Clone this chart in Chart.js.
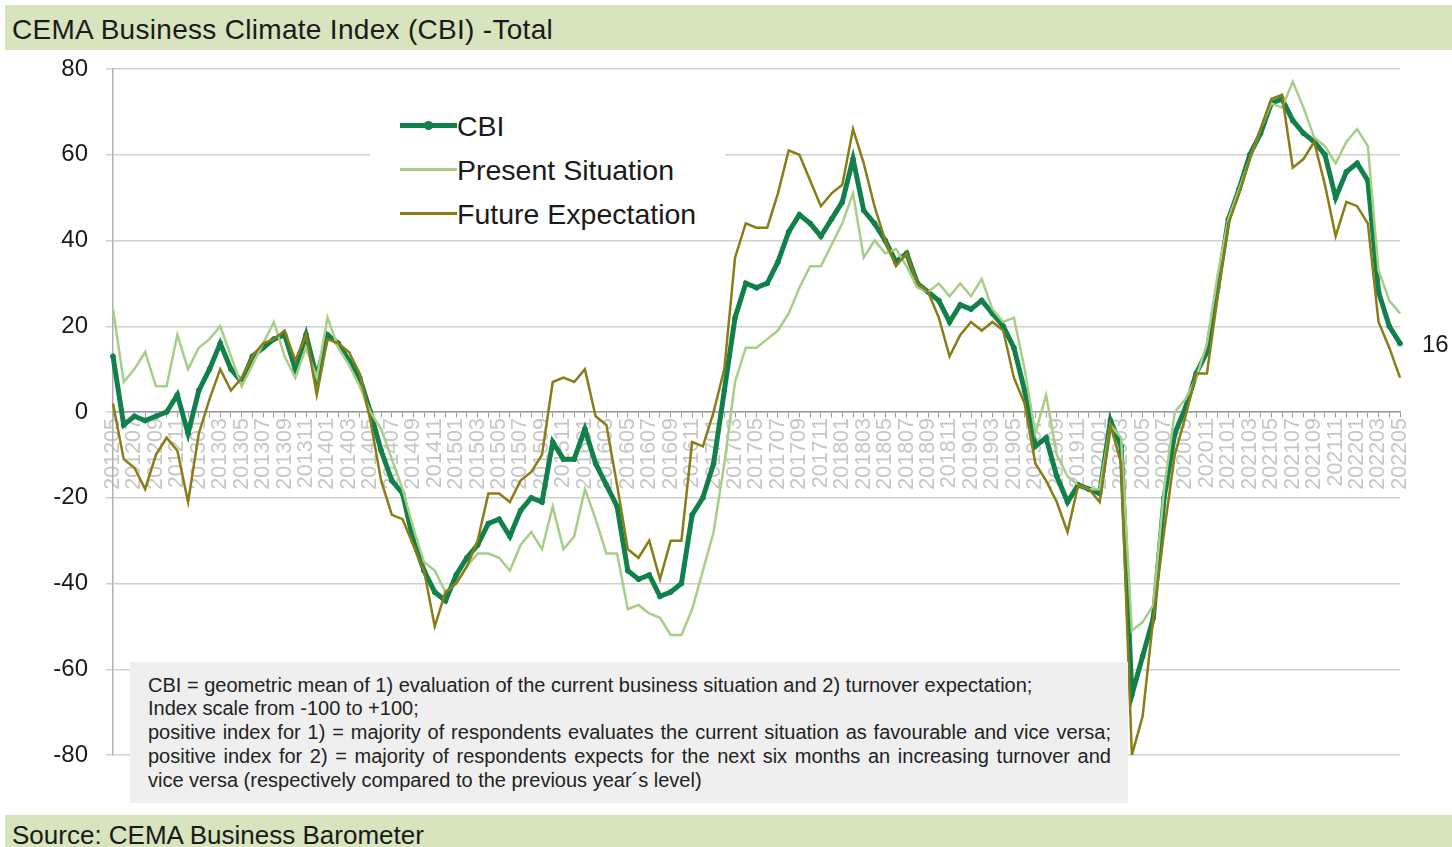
<!DOCTYPE html>
<html>
<head>
<meta charset="utf-8">
<script src="https://cdn.jsdelivr.net/npm/chart.js@4.4.1/dist/chart.umd.min.js"></script>
<style>
  body { margin: 0; background: #fff; font-family: 'Liberation Sans', Arial, sans-serif; }
  #wrap { position: relative; width: 1452px; height: 847px; overflow: hidden; }
  #cbiChart { position: absolute; left: 0; top: 0; }
  .bar { position: absolute; left: 5px; right: 0; background: #d7e4bd; color: #1a1a1a; }
  #title { top: 5px; height: 45px; font-size: 28px; letter-spacing: 0.3px; line-height: 50px; padding-left: 7px; }
  #source { top: 815px; height: 32px; font-size: 26px; line-height: 40px; padding-left: 7px; }
  #legend { position: absolute; left: 370px; top: 100px; width: 355px; height: 140px; background: #fff; }
  .item { position: absolute; left: 30px; height: 44px; font-size: 28.5px; color: #1a1a1a; line-height: 44px; }
  .item .swatch { position: absolute; left: 0; width: 57px; }
  .item span { position: absolute; left: 57px; white-space: nowrap; }
  #note { position: absolute; left: 130px; top: 662px; width: 998px; height: 141px; background: #efefef;
          font-size: 20px; color: #222; }
  #note div { position: absolute; left: 18px; width: 963px; white-space: nowrap; line-height: 22px; }
  #note div.j { white-space: normal; text-align: justify; text-align-last: justify; }
</style>
</head>
<body>
<div id="wrap">
  <canvas id="cbiChart" width="1452" height="847"></canvas>
  <div class="bar" id="title">CEMA Business Climate Index (CBI) -Total</div>
  <div id="legend">
    <div class="item" style="top:4px"><div class="swatch" style="top:19px;height:5px;background:#11804a"></div>
      <div style="position:absolute;left:24px;top:17px;width:9px;height:9px;border-radius:50%;background:#11804a"></div><span>CBI</span></div>
    <div class="item" style="top:48px"><div class="swatch" style="top:20px;height:3px;background:#a6cf86"></div><span>Present Situation</span></div>
    <div class="item" style="top:92px"><div class="swatch" style="top:20px;height:3px;background:#8a7c16"></div><span>Future Expectation</span></div>
  </div>
  <div id="note">
    <div style="top:12px">CBI = geometric mean of 1) evaluation of the current business situation and 2) turnover expectation;</div>
    <div style="top:35px">Index scale from -100 to +100;</div>
    <div class="j" style="top:59px">positive index for 1) = majority of respondents evaluates the current situation as favourable and vice versa;</div>
    <div class="j" style="top:83px">positive index for 2) = majority of respondents expects for the next six months an increasing turnover and</div>
    <div style="top:107px">vice versa (respectively compared to the previous year´s level)</div>
  </div>
  <div class="bar" id="source">Source: CEMA Business Barometer</div>
</div>
<script>
const months = [
  '201205', '201206', '201207', '201208', '201209', '201210', '201211', '201212',
  '201301', '201302', '201303', '201304', '201305', '201306', '201307', '201308', '201309', '201310', '201311', '201312',
  '201401', '201402', '201403', '201404', '201405', '201406', '201407', '201408', '201409', '201410', '201411', '201412',
  '201501', '201502', '201503', '201504', '201505', '201506', '201507', '201508', '201509', '201510', '201511', '201512',
  '201601', '201602', '201603', '201604', '201605', '201606', '201607', '201608', '201609', '201610', '201611', '201612',
  '201701', '201702', '201703', '201704', '201705', '201706', '201707', '201708', '201709', '201710', '201711', '201712',
  '201801', '201802', '201803', '201804', '201805', '201806', '201807', '201808', '201809', '201810', '201811', '201812',
  '201901', '201902', '201903', '201904', '201905', '201906', '201907', '201908', '201909', '201910', '201911', '201912',
  '202001', '202002', '202003', '202004', '202005', '202006', '202007', '202008', '202009', '202010', '202011', '202012',
  '202101', '202102', '202103', '202104', '202105', '202106', '202107', '202108', '202109', '202110', '202111', '202112',
  '202201', '202202', '202203', '202204', '202205'
];

const cbi = [
  13, -3, -1, -2, -1, 0, 4, -5,
  5, 10, 16, 10, 7, 13, 15, 17, 18, 10, 18, 8,
  18, 16, 12, 8, 0, -9, -16, -19, -30, -37, -42, -44,
  -38, -34, -31, -26, -25, -29, -23, -20, -21, -7, -11, -11,
  -4, -12, -17, -22, -37, -39, -38, -43, -42, -40, -24, -20,
  -12, 5, 22, 30, 29, 30, 35, 42, 46, 44, 41, 45,
  49, 59, 47, 44, 40, 35, 37, 30, 28, 26, 21, 25,
  24, 26, 23, 20, 15, 5, -8, -6, -15, -21, -17, -18,
  -19, -2, -8, -66, -57, -48, -20, -5, 1, 9, 14, 29,
  45, 52, 60, 65, 72, 73, 68, 65, 63, 60, 50, 56,
  58, 54, 28, 20, 16
];

const present = [
  24, 7, 10, 14, 6, 6, 18, 10,
  15, 17, 20, 13, 6, 11, 16, 21, 13, 8, 15, 8,
  22, 15, 11, 6, 0, -4, -11, -18, -27, -35, -37, -42,
  -40, -36, -33, -33, -34, -37, -31, -28, -32, -22, -32, -29,
  -18, -25, -33, -33, -46, -45, -47, -48, -52, -52, -46, -37,
  -28, -12, 7, 15, 15, 17, 19, 23, 29, 34, 34, 39,
  44, 51, 36, 40, 37, 38, 34, 29, 28, 30, 27, 30,
  27, 31, 24, 21, 22, 10, -5, 4, -10, -15, -17, -18,
  -18, -3, -6, -51, -49, -45, -18, 0, 3, 8, 16, 32,
  45, 52, 59, 66, 72, 71, 77, 71, 64, 62, 58, 63,
  66, 62, 33, 26, 23
];

const future = [
  2, -11, -13, -18, -10, -6, -9, -21,
  -5, 3, 10, 5, 8, 13, 16, 17, 19, 12, 18, 4,
  17, 16, 14, 9, -2, -16, -24, -25, -31, -37, -50, -42,
  -40, -36, -30, -19, -19, -21, -16, -14, -10, 7, 8, 7,
  10, -1, -3, -17, -32, -34, -30, -39, -30, -30, -7, -8,
  0, 10, 36, 44, 43, 43, 51, 61, 60, 54, 48, 51,
  53, 66, 58, 48, 40, 34, 37, 30, 28, 22, 13, 18,
  21, 19, 21, 19, 8, 2, -12, -16, -21, -28, -17, -18,
  -21, -3, -12, -80, -71, -48, -28, -10, -1, 9, 9, 27,
  44, 51, 59, 66, 73, 74, 57, 59, 63, 53, 41, 49,
  48, 44, 21, 15, 8
];

const yTicks = [-80, -60, -40, -20, 0, 20, 40, 60, 80];

const FONT = "'Liberation Sans', Arial, sans-serif";

// value label next to the last CBI point
const lastValueLabel = {
  id: 'lastValueLabel',
  afterDatasetsDraw(chart) {
    const meta = chart.getDatasetMeta(0);
    const pt = meta.data[meta.data.length - 1];
    const ctx = chart.ctx;
    ctx.save();
    ctx.font = '24px ' + FONT;
    ctx.fillStyle = '#1a1a1a';
    ctx.textBaseline = 'middle';
    ctx.fillText(String(cbi[cbi.length - 1]), pt.x + 22, pt.y + 2);
    ctx.restore();
  }
};

const ctx = document.getElementById('cbiChart').getContext('2d');

new Chart(ctx, {
  type: 'line',
  data: {
    labels: months,
    datasets: [
      {
        label: 'CBI',
        data: cbi,
        borderColor: '#11804a',
        backgroundColor: '#11804a',
        borderWidth: 5,
        pointRadius: 2.8,
        pointBorderWidth: 0,
        tension: 0,
        order: 3
      },
      {
        label: 'Present Situation',
        data: present,
        borderColor: '#a6cf86',
        borderWidth: 2.5,
        pointRadius: 0,
        tension: 0,
        order: 2
      },
      {
        label: 'Future Expectation',
        data: future,
        borderColor: '#8a7c16',
        borderWidth: 2.5,
        pointRadius: 0,
        tension: 0,
        order: 1
      }
    ]
  },
  options: {
    responsive: false,
    animation: false,
    layout: { padding: { left: 0, top: 69, right: 52, bottom: 92 } },
    plugins: {
      legend: { display: false },
      tooltip: { enabled: false }
    },
    scales: {
      x: {
        type: 'category',
        position: { y: 0 },
        offset: false,
        grid: { drawOnChartArea: false, drawTicks: true, tickLength: 5, color: '#9a9a9a' },
        border: { color: '#9a9a9a', width: 1.5 },
        ticks: {
          autoSkip: false,
          maxRotation: 90,
          minRotation: 90,
          padding: 1,
          color: '#c6c6c6',
          font: { family: FONT, size: 21.5 },
          callback: (value, index) => (index % 2 === 0 ? months[index] : '')
        }
      },
      y: {
        min: -80,
        max: 80,
        afterFit: scale => { scale.width = 113; },
        afterBuildTicks: scale => { scale.ticks = yTicks.map(v => ({ value: v })); },
        grid: { color: '#d0d0d0', lineWidth: 1.5, tickLength: 7 },
        border: { color: '#b0b0b0', width: 1.5 },
        ticks: {
          padding: 18,
          color: '#1a1a1a',
          font: { family: FONT, size: 24 }
        }
      }
    }
  },
  plugins: [lastValueLabel]
});
</script>
</body>
</html>
